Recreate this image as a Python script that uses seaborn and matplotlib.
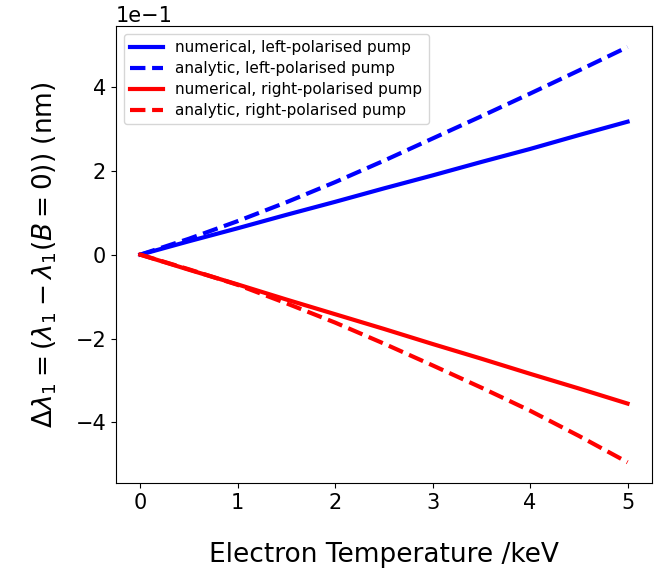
import numpy as np
import pandas as pd
import matplotlib
matplotlib.use("Agg")
import matplotlib.pyplot as plt
import seaborn as sns

# Electron temperature (keV)
temperature = [0.0, 0.5, 1.0, 1.5, 2.0, 2.5, 3.0, 3.5, 4.0, 4.5, 5.0]

# Wavelength shift (nm)
numerical_left = [0.0, 0.032, 0.063, 0.095, 0.126, 0.158, 0.189, 0.221, 0.252, 0.285, 0.317]
analytic_left = [0.0, 0.038, 0.080, 0.125, 0.173, 0.224, 0.277, 0.330, 0.384, 0.439, 0.495]
numerical_right = [0.0, -0.036, -0.071, -0.107, -0.142, -0.177, -0.213, -0.248, -0.284, -0.319, -0.355]
analytic_right = [0.0, -0.035, -0.072, -0.116, -0.162, -0.212, -0.264, -0.317, -0.372, -0.432, -0.495]

labels = [
    "numerical, left-polarised pump",
    "analytic, left-polarised pump",
    "numerical, right-polarised pump",
    "analytic, right-polarised pump",
]
colors = ["blue", "blue", "red", "red"]
styles = ["-", "--", "-", "--"]
series = [numerical_left, analytic_left, numerical_right, analytic_right]

fig = plt.figure(figsize=(6.7, 5.71), dpi=100)
ax = fig.add_axes([0.173, 0.154, 0.800, 0.800])

for lab, col, ls, vals in zip(labels, colors, styles, series):
    df = pd.DataFrame({"T": temperature, "d": vals})
    sns.lineplot(data=df, x="T", y="d", ax=ax, color=col, linestyle=ls,
                 linewidth=3, label=lab, sort=False)

ax.ticklabel_format(axis="y", style="sci", scilimits=(0, 0))
ax.yaxis.get_offset_text().set_fontsize(15)
ax.tick_params(labelsize=15)
ax.set_xticks([0, 1, 2, 3, 4, 5])
ax.set_xlabel("Electron Temperature /keV", fontsize=19, labelpad=21)
ax.set_ylabel(r"$\Delta\lambda_1 = (\lambda_1 - \lambda_1(B=0))$ (nm)", fontsize=19, labelpad=12)
ax.legend(loc="upper left", fontsize=11, handlelength=2.2, labelspacing=0.4,
          borderaxespad=0.5)

fig.savefig("out.png", dpi=100)
